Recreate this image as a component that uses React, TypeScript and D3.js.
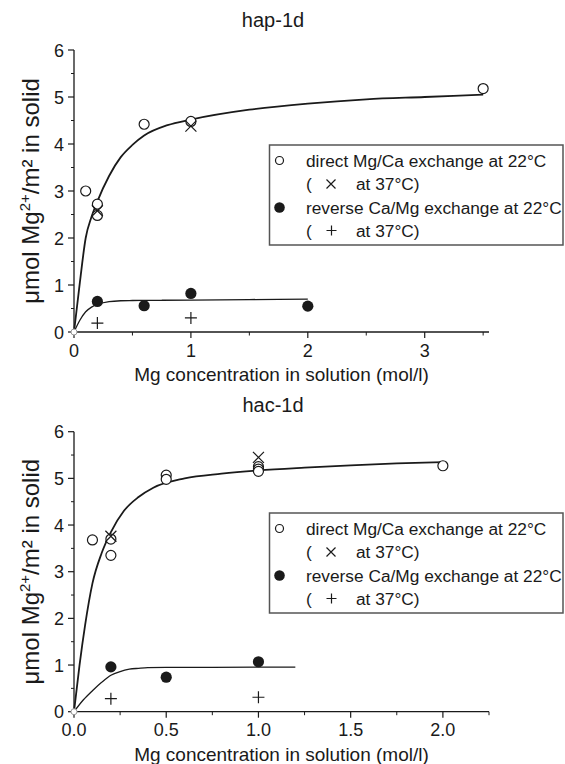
import React from "react";
import * as d3 from "d3";

// ---------- DATA ----------
// Panel titles
const panelTitles = ["hap-1d", "hac-1d"];
const xDomainMax = [3.55, 2.25];
const xMajorTicks = [[0, 1, 2, 3], [0, 0.5, 1.0, 1.5, 2.0]];
const xMinorStep = [0.5, 0.25];
const xTickFormat = ["d", ".1f"];
const yTicks = [0, 1, 2, 3, 4, 5, 6];

// hap-1d
const hapDirectX = [0.1, 0.2, 0.2, 0.6, 1.0, 3.5];
const hapDirectY = [3.0, 2.72, 2.48, 4.42, 4.48, 5.18];
const hapDirect37X = [0.2, 1.0];
const hapDirect37Y = [2.58, 4.38];
const hapReverseX = [0.2, 0.6, 1.0, 2.0];
const hapReverseY = [0.65, 0.56, 0.82, 0.55];
const hapReverse37X = [0.2, 1.0];
const hapReverse37Y = [0.19, 0.3];
const hapDirectFitX = [0, 0.05, 0.1, 0.15, 0.2, 0.3, 0.4, 0.5, 0.6, 0.8, 1.0, 1.5, 2.0, 2.5, 3.0, 3.5];
const hapDirectFitY = [0, 1.05, 2.0, 2.45, 2.78, 3.32, 3.72, 3.98, 4.18, 4.4, 4.52, 4.73, 4.86, 4.95, 5.0, 5.05];
const hapReverseFitX = [0, 0.05, 0.1, 0.15, 0.2, 0.3, 0.4, 0.5, 0.75, 1.0, 1.5, 2.0];
const hapReverseFitY = [0, 0.25, 0.43, 0.53, 0.59, 0.645, 0.665, 0.67, 0.675, 0.68, 0.69, 0.7];

// hac-1d
const hacDirectX = [0.1, 0.2, 0.2, 0.5, 0.5, 1.0, 1.0, 1.0, 2.0];
const hacDirectY = [3.68, 3.7, 3.35, 5.07, 4.98, 5.25, 5.2, 5.15, 5.27];
const hacDirect37X = [0.2, 1.0];
const hacDirect37Y = [3.76, 5.45];
const hacReverseX = [0.2, 0.5, 1.0];
const hacReverseY = [0.96, 0.74, 1.07];
const hacReverse37X = [0.2, 1.0];
const hacReverse37Y = [0.28, 0.31];
const hacDirectFitX = [0, 0.03, 0.06, 0.1, 0.15, 0.2, 0.27, 0.35, 0.43, 0.6, 0.8, 1.0, 1.25, 1.5, 1.75, 2.0];
const hacDirectFitY = [0, 1.0, 1.85, 2.75, 3.4, 3.85, 4.3, 4.6, 4.8, 5.0, 5.1, 5.17, 5.23, 5.28, 5.32, 5.35];
const hacReverseFitX = [0, 0.05, 0.1, 0.15, 0.2, 0.25, 0.3, 0.35, 0.4, 0.5, 0.75, 1.0, 1.2];
const hacReverseFitY = [0, 0.25, 0.45, 0.63, 0.78, 0.86, 0.91, 0.93, 0.945, 0.95, 0.95, 0.955, 0.955];

const originX = [0];
const originY = [0];

const legendLabels = [
  "direct Mg/Ca exchange at 22°C",
  "at 37°C)",
  "reverse Ca/Mg exchange at 22°C",
  "at 37°C)",
];
const xAxisTitle = "Mg concentration in solution (mol/l)";

// ---------- LAYOUT ----------
const W = 565;
const H = 764;
const FONT = "'Liberation Sans', Arial, sans-serif";
const INK = "#1a1a1a";

const zip = (xs: number[], ys: number[]) => xs.map((x, i) => [x, ys[i]] as [number, number]);

const panels = [
  {
    top: 50, bottom: 332, legendTop: 145, titleY: 27,
    direct: zip(hapDirectX, hapDirectY),
    direct37: zip(hapDirect37X, hapDirect37Y),
    reverse: zip(hapReverseX, hapReverseY),
    reverse37: zip(hapReverse37X, hapReverse37Y),
    directFit: zip(hapDirectFitX, hapDirectFitY),
    reverseFit: zip(hapReverseFitX, hapReverseFitY),
  },
  {
    top: 431.7, bottom: 711.7, legendTop: 513, titleY: 412,
    direct: zip(hacDirectX, hacDirectY),
    direct37: zip(hacDirect37X, hacDirect37Y),
    reverse: zip(hacReverseX, hacReverseY),
    reverse37: zip(hacReverse37X, hacReverse37Y),
    directFit: zip(hacDirectFitX, hacDirectFitY),
    reverseFit: zip(hacReverseFitX, hacReverseFitY),
  },
];

const left = 74;
const right = 489;

function Cross({ x, y, s = 5.5 }: { x: number; y: number; s?: number }) {
  return (
    <path d={`M${x - s},${y - s}L${x + s},${y + s}M${x - s},${y + s}L${x + s},${y - s}`} stroke={INK} strokeWidth={1.2} fill="none" />
  );
}
function Plus({ x, y, s = 6 }: { x: number; y: number; s?: number }) {
  return (
    <path d={`M${x - s},${y}L${x + s},${y}M${x},${y - s}L${x},${y + s}`} stroke={INK} strokeWidth={1.2} fill="none" />
  );
}

function Panel({ idx }: { idx: number }) {
  const p = panels[idx];
  const xs = d3.scaleLinear().domain([0, xDomainMax[idx]]).range([left, right]);
  const ys = d3.scaleLinear().domain([0, 6]).range([p.bottom, p.top]);
  const line = d3
    .line<[number, number]>()
    .x((d) => xs(d[0]))
    .y((d) => ys(d[1]))
    .curve(d3.curveMonotoneX);
  const minorX = d3.range(0, xDomainMax[idx] + 1e-9, xMinorStep[idx]).filter(
    (v) => !xMajorTicks[idx].some((m) => Math.abs(m - v) < 1e-9)
  );
  const minorY = d3.range(0.5, 6, 1);
  const fmt = d3.format(xTickFormat[idx]);
  const cy = (p.top + p.bottom) / 2;
  const lt = p.legendTop;
  const rows = [lt + 21.5, lt + 45, lt + 68.5, lt + 91.5];
  const LF = 17.3;

  return (
    <g>
      {/* title */}
      <text x={273} y={p.titleY} textAnchor="middle" fontSize={20} fill={INK} fontFamily={FONT}>
        {panelTitles[idx]}
      </text>
      {/* axes */}
      <line x1={left} x2={left} y1={p.top} y2={p.bottom} stroke={INK} strokeWidth={1.3} />
      <line x1={left} x2={right} y1={p.bottom} y2={p.bottom} stroke={INK} strokeWidth={1.3} />
      {yTicks.map((t) => (
        <g key={"y" + t}>
          <line x1={left - 6} x2={left} y1={ys(t)} y2={ys(t)} stroke={INK} strokeWidth={1.2} />
          <text x={left - 10} y={ys(t) + 6.5} textAnchor="end" fontSize={18} fill={INK} fontFamily={FONT}>
            {t}
          </text>
        </g>
      ))}
      {minorY.map((t) => (
        <line key={"ym" + t} x1={left - 3} x2={left} y1={ys(t)} y2={ys(t)} stroke={INK} strokeWidth={1} />
      ))}
      {xMajorTicks[idx].map((t) => (
        <g key={"x" + t}>
          <line x1={xs(t)} x2={xs(t)} y1={p.bottom} y2={p.bottom + 6} stroke={INK} strokeWidth={1.2} />
          <text x={xs(t)} y={p.bottom + 24.5} textAnchor="middle" fontSize={18} fill={INK} fontFamily={FONT}>
            {fmt(t)}
          </text>
        </g>
      ))}
      {minorX.map((t) => (
        <line key={"xm" + t} x1={xs(t)} x2={xs(t)} y1={p.bottom} y2={p.bottom + 3.5} stroke={INK} strokeWidth={1} />
      ))}
      <text x={(left + right) / 2} y={p.bottom + 49} textAnchor="middle" fontSize={19} fill={INK} fontFamily={FONT}>
        {xAxisTitle}
      </text>
      <text
        transform={`translate(39,${cy}) rotate(-90)`}
        textAnchor="middle"
        fontSize={24}
        fill={INK}
        fontFamily={FONT}
      >
        <tspan>μmol Mg</tspan>
        <tspan fontSize={15} dy={-9}>2+</tspan>
        <tspan dy={9}>/m² in solid</tspan>
      </text>
      {/* fits */}
      <path d={line(p.directFit) || ""} fill="none" stroke={INK} strokeWidth={1.8} />
      <path d={line(p.reverseFit) || ""} fill="none" stroke={INK} strokeWidth={1.3} />
      {/* data */}
      {p.direct.map((d, i) => (
        <circle key={"d" + i} cx={xs(d[0])} cy={ys(d[1])} r={5} fill="white" stroke={INK} strokeWidth={1.2} />
      ))}
      {p.direct37.map((d, i) => (
        <Cross key={"dx" + i} x={xs(d[0])} y={ys(d[1])} />
      ))}
      {p.reverse.map((d, i) => (
        <circle key={"r" + i} cx={xs(d[0])} cy={ys(d[1])} r={5.6} fill={INK} />
      ))}
      {p.reverse37.map((d, i) => (
        <Plus key={"rp" + i} x={xs(d[0])} y={ys(d[1])} />
      ))}
      {zip(originX, originY).map((d, i) => (
        <circle key={"o" + i} cx={xs(d[0])} cy={ys(d[1])} r={3} fill="white" stroke="#999" strokeWidth={1} />
      ))}
      {/* legend */}
      <rect x={269.5} y={lt} width={293.5} height={100} fill="white" stroke="#555" strokeWidth={1.5} />
      <circle cx={279.5} cy={rows[0] - 6} r={4} fill="white" stroke={INK} strokeWidth={1.2} />
      <text x={306} y={rows[0]} fontSize={LF} fill={INK} fontFamily={FONT}>{legendLabels[0]}</text>
      <text x={306} y={rows[1]} fontSize={LF} fill={INK} fontFamily={FONT}>(</text>
      <Cross x={331} y={rows[1] - 6} s={4.5} />
      <text x={356} y={rows[1]} fontSize={LF} fill={INK} fontFamily={FONT}>{legendLabels[1]}</text>
      <circle cx={279.5} cy={rows[2] - 6} r={5.3} fill={INK} />
      <text x={306} y={rows[2]} fontSize={LF} fill={INK} fontFamily={FONT}>{legendLabels[2]}</text>
      <text x={306} y={rows[3]} fontSize={LF} fill={INK} fontFamily={FONT}>(</text>
      <Plus x={331.5} y={rows[3] - 6} s={5} />
      <text x={356} y={rows[3]} fontSize={LF} fill={INK} fontFamily={FONT}>{legendLabels[3]}</text>
    </g>
  );
}

export default function App() {
  return (
    <svg width={W} height={H} style={{ position: "absolute", left: 0, top: 0, background: "white" }}>
      <rect width={W} height={H} fill="white" />
      <Panel idx={0} />
      <Panel idx={1} />
    </svg>
  );
}
